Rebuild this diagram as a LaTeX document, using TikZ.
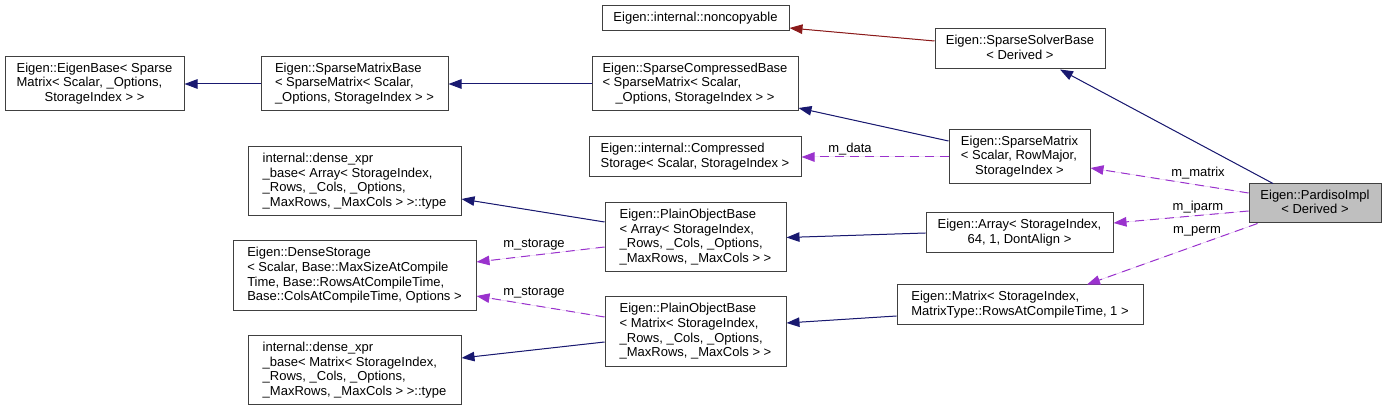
\documentclass[tikz,border=0pt]{standalone}
\usepackage{fontspec}
\setmainfont{Liberation Sans}
\usetikzlibrary{arrows.meta}
\definecolor{BoxEdge}  {HTML}{404040}
\definecolor{CurGray}  {HTML}{BFBFBF}
\definecolor{InhBlue}  {HTML}{191970}
\definecolor{PrivRed}  {HTML}{8B1A1A}
\definecolor{UsePurple}{HTML}{9A32CD}
% graphviz style label: lines left, last line centred
\newcommand{\gvlabel}[2]{\begin{tabular}{@{}l@{}}#1\\\multicolumn{1}{@{}c@{}}{#2}\end{tabular}}
\tikzset{
  cls/.style={rectangle,draw=BoxEdge,fill=white,line width=1pt,inner sep=0pt,
              font=\fontsize{13}{14.7}\selectfont,align=center},
  lbl/.style={inner sep=0pt,font=\fontsize{13}{14.7}\selectfont},
  inh/.style={-{Triangle[length=13pt,width=9.5pt]},line width=1pt,draw=InhBlue,fill=InhBlue},
  priv/.style={-{Triangle[length=13pt,width=9.5pt]},line width=1pt,draw=PrivRed,fill=PrivRed},
  use/.style={-{Triangle[length=13pt,width=9.5pt]},line width=1pt,draw=UsePurple,fill=UsePurple,
              dash pattern=on 9pt off 6pt},
}
\begin{document}
\begin{tikzpicture}[x=1pt,y=-1pt]
  \useasboundingbox (0,0) rectangle (1385,411);

  % classes
  \node[cls,minimum width=179,minimum height=54] (eigenbase) at (94.5,84)
    {\gvlabel{Eigen::EigenBase< Sparse\\Matrix< Scalar, \_Options,}{StorageIndex > >}};
  \node[cls,minimum width=187,minimum height=54] (spmatbase) at (354.5,84)
    {\gvlabel{Eigen::SparseMatrixBase\\< SparseMatrix< Scalar,}{\_Options, StorageIndex > >}};
  \node[cls,minimum width=206,minimum height=54] (spcompbase) at (695,84)
    {\gvlabel{Eigen::SparseCompressedBase\\< SparseMatrix< Scalar,}{\_Options, StorageIndex > >}};
  \node[cls,minimum width=187,minimum height=25] (noncopyable) at (695.5,18.5)
    {Eigen::internal::noncopyable};
  \node[cls,minimum width=170,minimum height=40] (spsolver) at (1020,49)
    {\gvlabel{Eigen::SparseSolverBase}{< Derived >}};
  \node[cls,minimum width=212,minimum height=40] (cstorage) at (695,157)
    {\gvlabel{Eigen::internal::Compressed}{Storage< Scalar, StorageIndex >}};
  \node[cls,minimum width=141,minimum height=54] (spmatrix) at (1019.5,157)
    {\gvlabel{Eigen::SparseMatrix\\< Scalar, RowMajor,}{StorageIndex >}};
  \node[cls,minimum width=213,minimum height=69] (xprarray) at (354.5,181.5)
    {\gvlabel{internal::dense\_xpr\\\_base< Array< StorageIndex,\\\_Rows, \_Cols, \_Options,}{\_MaxRows, \_MaxCols > >::type}};
  \node[cls,minimum width=181,minimum height=69] (pobarray) at (695.5,237.5)
    {\gvlabel{Eigen::PlainObjectBase\\< Array< StorageIndex,\\\_Rows, \_Cols, \_Options,}{\_MaxRows, \_MaxCols > >}};
  \node[cls,minimum width=187,minimum height=40] (array) at (1019.5,233)
    {\gvlabel{Eigen::Array< StorageIndex,}{64, 1, DontAlign >}};
  \node[cls,fill=CurGray,minimum width=132,minimum height=39] (pardiso) at (1315,203.5)
    {\gvlabel{Eigen::PardisoImpl}{< Derived >}};
  \node[cls,minimum width=243,minimum height=70] (densestorage) at (354.5,276)
    {\gvlabel{Eigen::DenseStorage\\< Scalar, Base::MaxSizeAtCompile\\Time, Base::RowsAtCompileTime,}{Base::ColsAtCompileTime, Options >}};
  \node[cls,minimum width=246,minimum height=40] (matrix) at (1020,305)
    {\gvlabel{Eigen::Matrix< StorageIndex,}{MatrixType::RowsAtCompileTime, 1 >}};
  \node[cls,minimum width=181,minimum height=70] (pobmatrix) at (695.5,332)
    {\gvlabel{Eigen::PlainObjectBase\\< Matrix< StorageIndex,\\\_Rows, \_Cols, \_Options,}{\_MaxRows, \_MaxCols > >}};
  \node[cls,minimum width=213,minimum height=69] (xprmatrix) at (354.5,370.5)
    {\gvlabel{internal::dense\_xpr\\\_base< Matrix< StorageIndex,\\\_Rows, \_Cols, \_Options,}{\_MaxRows, \_MaxCols > >::type}};

  % inheritance
  \draw[inh] (spmatbase.west) -- (eigenbase.east);
  \draw[inh] (spcompbase.west) -- (spmatbase.east);
  \draw[priv] ([yshift=8pt]spsolver.west) -- ([yshift=-9.5pt]noncopyable.east);
  \draw[inh] ([yshift=16pt]spmatrix.west) -- ([yshift=-24pt]spcompbase.east);
  \draw[inh] ([xshift=-42pt]pardiso.north) -- ([xshift=40pt]spsolver.south);
  \draw[inh] (array.west) -- (pobarray.east);
  \draw[inh] ([yshift=-11pt]matrix.west) -- ([yshift=9pt]pobmatrix.east);
  \draw[inh] ([yshift=15.5pt]pobarray.west) -- ([yshift=-17.5pt]xprarray.east);
  \draw[inh] ([yshift=-10pt]pobmatrix.west) -- ([yshift=12.5pt]xprmatrix.east);

  % members
  \draw[use] (spmatrix.west) -- (cstorage.east);
  \draw[use] ([yshift=10.5pt]pardiso.west) -- ([yshift=-11pt]spmatrix.east);
  \draw[use] ([yshift=-7.5pt]pardiso.west) -- ([yshift=10pt]array.east);
  \draw[use] ([xshift=9pt]pardiso.south west) -- ([xshift=67pt]matrix.north);
  \draw[use] ([yshift=-9.5pt]pobarray.west) -- ([yshift=14pt]densestorage.east);
  \draw[use] ([yshift=15pt]pobmatrix.west) -- ([yshift=-20pt]densestorage.east);

  \node[lbl] (lmdata)     at (850,149)  {m\_data};
  \node[lbl] (lmmatrix)   at (1198,173) {m\_matrix};
  \node[lbl] (lmiparm)    at (1198,207) {m\_iparm};
  \node[lbl] (lmperm)     at (1197,231) {m\_perm};
  \node[lbl] (lstorage)   at (534,245)  {m\_storage};
  \node[lbl] (lstorage2)  at (534,293)  {m\_storage};

\end{tikzpicture}
\end{document}
